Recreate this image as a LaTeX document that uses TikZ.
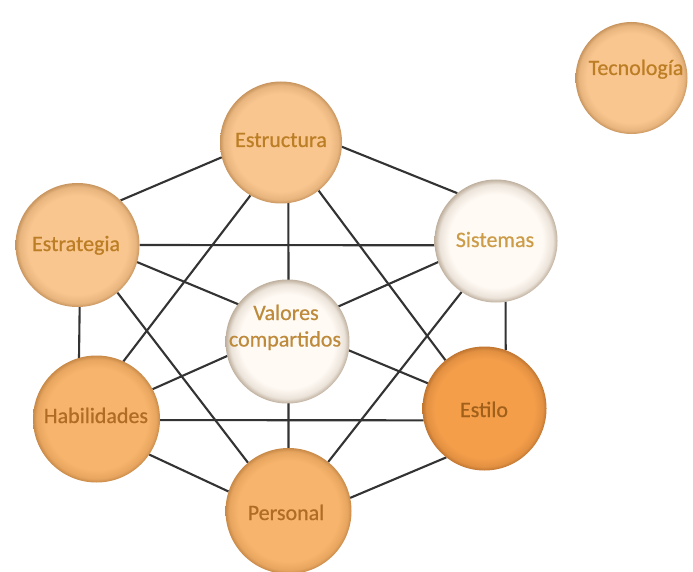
\documentclass[tikz,border=0pt]{standalone}
\usepackage{fontspec}
\setmainfont{Carlito}
\usetikzlibrary{backgrounds}
\definecolor{pchF}{HTML}{F9C690}
\definecolor{pchR}{HTML}{C9955F}
\definecolor{orgF}{HTML}{F7B46C}
\definecolor{orgR}{HTML}{C98A48}
\definecolor{dpF}{HTML}{F49E4A}
\definecolor{dpR}{HTML}{C07530}
\definecolor{crmF}{HTML}{FFFAF4}
\definecolor{crmR}{HTML}{BFB09E}
\definecolor{linec}{HTML}{333333}
\definecolor{txtA}{HTML}{BC7E24}
\definecolor{txtB}{HTML}{B06C24}
\definecolor{txtC}{HTML}{A0601A}
\definecolor{txtD}{HTML}{CC9C48}
\definecolor{txtE}{HTML}{BE8A3C}
\pgfdeclareradialshading{ballpch}{\pgfpoint{0bp}{0bp}}{color(0bp)=(pchF); color(20bp)=(pchF); color(23.5bp)=(pchF!65!pchR); color(25bp)=(pchR); color(50bp)=(pchR)}
\pgfdeclareradialshading{ballorg}{\pgfpoint{0bp}{0bp}}{color(0bp)=(orgF); color(20bp)=(orgF); color(23.5bp)=(orgF!65!orgR); color(25bp)=(orgR); color(50bp)=(orgR)}
\pgfdeclareradialshading{balldp}{\pgfpoint{0bp}{0bp}}{color(0bp)=(dpF); color(20bp)=(dpF); color(23.5bp)=(dpF!65!dpR); color(25bp)=(dpR); color(50bp)=(dpR)}
\pgfdeclareradialshading{ballcrm}{\pgfpoint{0bp}{0bp}}{color(0bp)=(crmF); color(19bp)=(crmF); color(23bp)=(crmF!70!crmR); color(25bp)=(crmR); color(50bp)=(crmR)}
\tikzset{
  ball/.style={circle, shade, inner sep=0pt, outer sep=0pt, minimum size=#1},
  edge7/.style={draw=linec, line width=2.1pt},
  lbl/.style={anchor=base, inner sep=0pt, font=\fontsize{22}{26}\selectfont\addfontfeatures{FakeBold=0.6}}
}
\begin{document}
\begin{tikzpicture}[x=1pt,y=-1pt]
\useasboundingbox (0,0) rectangle (693,572);
% circles
\node[ball=122pt, shading=ballpch] (e1) at (281,142.5) {};
\node[ball=124pt, shading=ballpch] (e2) at (77.5,245) {};
\node[ball=123pt, shading=ballcrm] (s) at (496,241) {};
\node[ball=124pt, shading=ballcrm] (v) at (287.5,341.5) {};
\node[ball=127pt, shading=ballorg] (h) at (96.5,419) {};
\node[ball=124pt, shading=balldp] (l) at (484.5,408.5) {};
\node[ball=126pt, shading=ballorg] (p) at (288.5,511) {};
\node[ball=112pt, shading=ballpch] (t) at (631.5,78) {};
% labels
\node[lbl, text=txtA] (e1t) at (281,147) {Estructura};
\node[lbl, text=txtA] (e2t) at (76,251) {Estrategia};
\node[lbl, text=txtD] (st) at (495,247) {Sistemas};
\node[lbl, text=txtE] (v1t) at (286,320) {Valores};
\node[lbl, text=txtE] (v2t) at (285,346.5) {compartidos};
\node[lbl, text=txtB] (ht) at (96,423) {Habilidades};
\node[lbl, text=txtC] (lt) at (484,417) {Estilo};
\node[lbl, text=txtB] (pt) at (286,520) {Personal};
\node[lbl, text=txtA] (tt) at (636,75) {Tecnología};
% connectors
\begin{scope}[on background layer]
\fill[white] (0,0) rectangle (693,572);
\draw[edge7] (e1.-4.2) -- (s.129.1);
\draw[edge7] (e1.-166.2) -- (e2.46.6);
\draw[edge7] (e2.-0.5) -- (s.184.1);
\draw[edge7] (e1.-83.9) -- (p.90.9);
\draw[edge7] (e1.-120.7) -- (h.65.1);
\draw[edge7] (e1.-52.3) -- (l.129.5);
\draw[edge7] (e2.-16.6) -- (l.156.1);
\draw[edge7] (h.28.7) -- (s.200.8);
\draw[edge7] (e2.-50) -- (p.130.8);
\draw[edge7] (s.-124.5) -- (p.51.3);
\draw[edge7] (h.-1.8) -- (l.191.6);
\draw[edge7] (e2.-88.6) -- (h.106);
\draw[edge7] (s.-81.6) -- (l.70.7);
\draw[edge7] (h.-34.1) -- (p.162.3);
\draw[edge7] (l.-128.7) -- (p.12.6);
\end{scope}
\end{tikzpicture}
\end{document}
